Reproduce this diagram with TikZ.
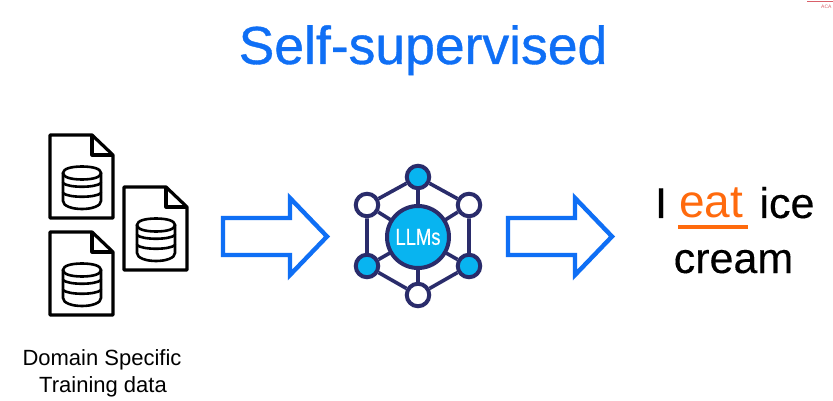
\documentclass[tikz,border=0pt]{standalone}
\usepackage{fontspec}
\setmainfont{Liberation Sans}
\definecolor{titleblue}{HTML}{0F6FF5}
\definecolor{navy}{HTML}{2A2C6B}
\definecolor{llmcyan}{HTML}{08B4F0}
\definecolor{eatorange}{HTML}{FF6A0D}
\definecolor{acared}{HTML}{D9606A}
\tikzset{
  docline/.style={draw=black,line width=3.2pt,line join=round,fill=white},
  dbline/.style={draw=black,line width=2.6pt,line cap=round},
  bigarrow/.style={draw=titleblue,line width=4.4pt,line join=miter,fill=white},
  hubfill/.style={circle,draw=navy,line width=4pt,minimum size=62pt,inner sep=0pt,fill=llmcyan,text=white,font=\fontsize{23}{23}\selectfont\addfontfeature{FakeStretch=0.8,FakeBold=0.3}},
  satfull/.style={circle,draw=navy,line width=4pt,minimum size=22.5pt,inner sep=0pt,fill=llmcyan},
  satempty/.style={circle,draw=navy,line width=4pt,minimum size=22.5pt,inner sep=0pt,fill=white},
  link/.style={draw=navy,line width=3.6pt},
  body/.style={font=\fontsize{43}{43}\selectfont\addfontfeature{FakeBold=0.25},inner sep=0pt,anchor=base},
  caption/.style={font=\fontsize{22}{22}\selectfont,inner sep=0pt,anchor=base}
}
\newcommand{\docicon}[2]{%
  \begin{scope}[shift={(#1,#2)}]
    \draw[docline] (0,0) -- (42,0) -- (63,20) -- (63,83) -- (0,83) -- cycle;
    \draw[docline,fill=none] (42,0) -- (42,20) -- (63,20);
    \draw[dbline] (13,38) -- (13,66)
       .. controls (13,71) and (22,74) .. (32,74)
       .. controls (42,74) and (51,71) .. (51,66) -- (51,38);
    \draw[dbline] (32,31.5) .. controls (22,31.5) and (13,33.5) .. (13,38)
       .. controls (13,42.5) and (22,44.5) .. (32,44.5)
       .. controls (42,44.5) and (51,42.5) .. (51,38)
       .. controls (51,33.5) and (42,31.5) .. (32,31.5) -- cycle;
    \draw[dbline] (13,48) .. controls (18,53) and (46,53) .. (51,48);
    \draw[dbline] (13,58) .. controls (18,63) and (46,63) .. (51,58);
  \end{scope}}
\newcommand{\bigarrowat}[1]{%
  \draw[bigarrow,shift={(#1,0)}] (0,218) -- (67,218) -- (67,198) -- (104,236.5) -- (67,275) -- (67,255) -- (0,255) -- cycle;}
\begin{document}
\begin{tikzpicture}[x=1pt,y=-1pt]
\useasboundingbox (0,0) rectangle (833,401);
\fill[white] (0,0) rectangle (833,401);
% corner remnant
\coordinate (redA) at (807,1.2);
\coordinate (redB) at (833,1.2);
\draw[acared,line width=0.8pt] (redA) -- (redB);
\begin{scope}
\clip (0,0) rectangle (833,401);
\node[text=acared,inner sep=0pt,anchor=base west,font=\fontsize{5}{5}\selectfont] (aca) at (821,9) {ACA};
\end{scope}
% title
\node[text=titleblue,inner sep=0pt,anchor=base,font=\fontsize{53.5}{54}\selectfont\addfontfeature{FakeBold=0.7}] (title) at (423,64) {Self-supervised};
% documents
\docicon{50}{135}
\docicon{124}{187}
\docicon{50}{232}
\node[caption] (cap1) at (102,365) {Domain Specific};
\node[caption] (cap2) at (103,392) {Training data};
% arrows
\bigarrowat{223}
\bigarrowat{508}
% LLM hub
\coordinate (hubc) at (418,237);
\node[satfull]  (top) at (418,177) {};
\node[satempty] (ul)  at (367,205) {};
\node[satempty] (ur)  at (469,205) {};
\node[satfull]  (ll)  at (367,266) {};
\node[satfull]  (lr)  at (469,266) {};
\node[satempty] (bot) at (418,295) {};
\path[link] (top) -- (ul) (top) -- (ur) (ul) -- (ll) (ur) -- (lr) (ll) -- (bot) (lr) -- (bot);
\path[link] (top) -- (hubc) (bot) -- (hubc) (ul) -- (hubc) (ur) -- (hubc) (ll) -- (hubc) (lr) -- (hubc);
\node[hubfill] (hub) at (hubc) {LLMs};
% sentence
\node[body] (i) at (661,218) {I};
\node[body,text=eatorange,font=\fontsize{46}{46}\selectfont] (eat) at (711,218) {eat};
\node[body] (ice) at (787,218) {ice};
\node[body] (cream) at (733.5,273) {cream};
\coordinate (ulA) at (678,227);
\coordinate (ulB) at (748,227);
\draw[eatorange,line width=3.4pt] (ulA) -- (ulB);
\end{tikzpicture}
\end{document}
